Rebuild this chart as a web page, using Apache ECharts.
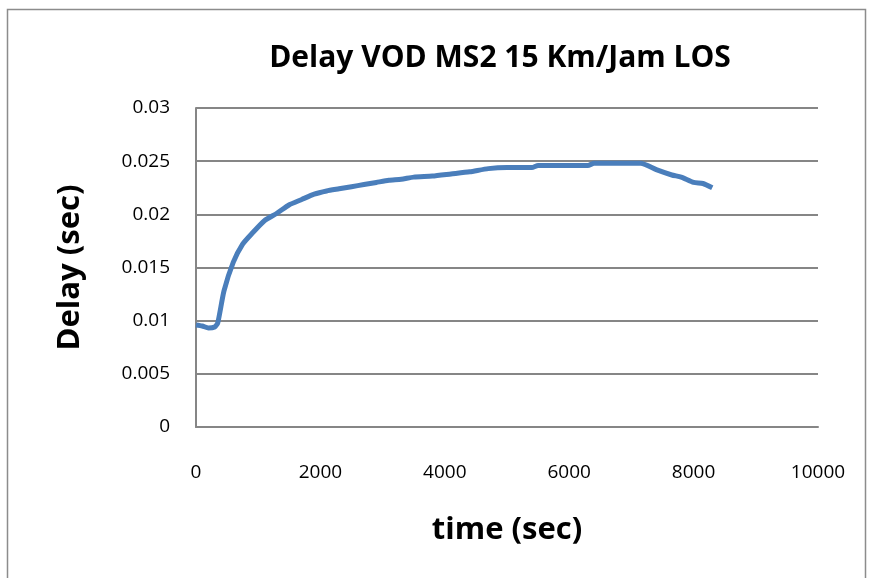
<!DOCTYPE html>
<html>
<head>
<meta charset="utf-8">
<script src="https://cdn.jsdelivr.net/npm/echarts@6/dist/echarts.min.js"></script>
<style>
  html, body { margin: 0; padding: 0; background: #fff; }
  #chart { width: 871px; height: 578px; }
</style>
</head>
<body>
<div id="chart"></div>
<script>
// time (sec) and delay (sec)
var times = [0, 100, 200, 300, 350, 450, 600, 750, 900, 1100, 1300, 1500, 1700, 1900, 2100, 2300, 2500, 2700,
  2900, 3100, 3300, 3500, 3800, 4100, 4400, 4700, 5000, 5400, 5500, 6300, 6400, 7150, 7400, 7650, 7800, 8000, 8150, 8300]
var delays = [0.0096, 0.0095, 0.0093, 0.0094, 0.0098, 0.0128, 0.0155, 0.0172, 0.0182, 0.0194, 0.0201, 0.0209, 0.0214,
  0.0219, 0.0222, 0.0224, 0.0226, 0.0228, 0.0230, 0.0232, 0.0233, 0.0235, 0.0236, 0.0238, 0.0240, 0.0243, 0.0244,
  0.0244, 0.0246, 0.0246, 0.0248, 0.0248, 0.0242, 0.0237, 0.0235, 0.0230, 0.0229, 0.0225]

var titleText = 'Delay VOD MS2 15 Km/Jam LOS'
var xName = 'time (sec)'
var yName = 'Delay (sec)'

var font = '"Open Sans", "Noto Sans", sans-serif'

var myChart = echarts.init(document.getElementById('chart'))
myChart.setOption({
  animation: false,
  title: {
    text: titleText,
    left: 495,
    top: 38,
    textAlign: 'center',
    textStyle: { fontFamily: font, fontSize: 30, fontWeight: 'bold', color: '#000' }
  },
  graphic: [{
    type: 'rect',
    shape: { x: 7.5, y: 9.5, width: 858, height: 600 },
    style: { fill: null, stroke: '#8c8c8c', lineWidth: 1.5 },
    silent: true
  }],
  grid: { left: 196, right: 53, top: 108, bottom: 151 },
  xAxis: {
    type: 'value',
    min: 0,
    max: 10000,
    interval: 2000,
    name: xName,
    nameLocation: 'middle',
    nameGap: 88,
    nameTextStyle: { fontFamily: font, fontSize: 31, fontWeight: 'bold', color: '#000' },
    axisLine: { show: true, lineStyle: { color: '#868686', width: 2 } },
    axisTick: { show: false },
    splitLine: { show: false },
    axisLabel: {
      fontFamily: font, fontSize: 19, color: '#000', margin: 36,
      formatter: function (v) { return String(v) }
    }
  },
  yAxis: {
    type: 'value',
    min: 0,
    max: 0.03,
    interval: 0.005,
    name: yName,
    nameLocation: 'middle',
    nameGap: 110,
    nameTextStyle: { fontFamily: font, fontSize: 31, fontWeight: 'bold', color: '#000' },
    axisLine: { show: true, lineStyle: { color: '#868686', width: 2 } },
    axisTick: { show: false },
    splitLine: { show: true, lineStyle: { color: '#868686', width: 2 } },
    axisLabel: { fontFamily: font, fontSize: 19, color: '#000', margin: 26 }
  },
  series: [{
    type: 'line',
    data: times.map(function (t, i) { return [t, delays[i]] }),
    showSymbol: false,
    smooth: 0.2,
    lineStyle: { color: '#4a7ebb', width: 5 },
    z: 3
  }]
})
</script>
</body>
</html>
